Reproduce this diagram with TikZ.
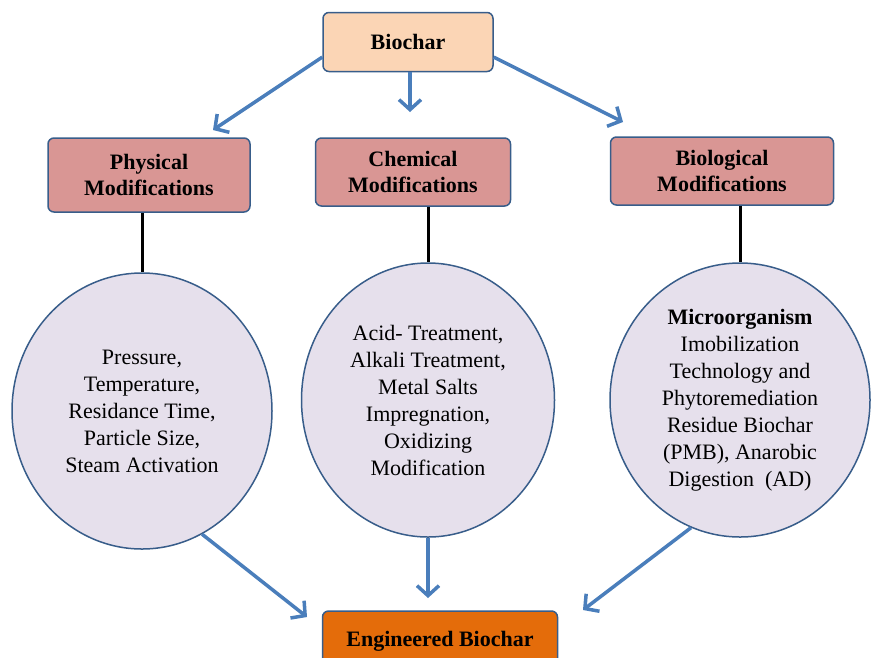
\documentclass[tikz,border=0pt]{standalone}
\usepackage{fontspec}
\setmainfont{Liberation Serif}
\usetikzlibrary{arrows.meta,positioning,shapes.geometric}
\definecolor{peachFill}{HTML}{FBD5B5}
\definecolor{pinkFill}{HTML}{D99694}
\definecolor{lilacFill}{HTML}{E6E0EC}
\definecolor{orangeFill}{HTML}{E46C0A}
\definecolor{boxStroke}{HTML}{385D8A}
\definecolor{arrowBlue}{HTML}{4A7EBB}

\begin{document}
\begin{tikzpicture}[
    x=1pt, y=-1pt,
    font=\fontsize{22}{27}\selectfont,
    headBox/.style={
        rectangle, rounded corners=6pt,
        draw=boxStroke, line width=1.5pt,
        align=center, font=\fontsize{22}{26}\selectfont\bfseries
    },
    modBox/.style={
        headBox, fill=pinkFill
    },
    bubble/.style={
        ellipse, draw=boxStroke, line width=1.5pt,
        fill=lilacFill, align=center, inner sep=0pt
    },
    flow/.style={-{Straight Barb[length=10pt,width=22pt,line width=3.5pt]},
        line width=3.5pt, draw=arrowBlue},
    link/.style={line width=3pt, draw=black}
]

\clip (0,0) rectangle (872,657);
\useasboundingbox (0,0) rectangle (872,657);

% top and bottom boxes
\node[headBox, fill=peachFill, minimum width=170pt, minimum height=59pt] (Biochar) at (408,42) {Biochar};
\node[headBox, fill=orangeFill, minimum width=235pt, minimum height=60pt] (Engineered) at (440,641) {Engineered Biochar};

% modification boxes
\node[modBox, minimum width=202pt, minimum height=74pt] (PhysMod) at (149,175) {Physical\\Modifications};
\node[modBox, minimum width=195pt, minimum height=68pt] (ChemMod) at (413,172) {Chemical\\Modifications};
\node[modBox, minimum width=223pt, minimum height=68pt] (BioMod) at (722,171) {Biological\\Modifications};

% method bubbles
\node[bubble, minimum width=260pt, minimum height=276pt] (PhysEll) at (142,411)
  {Pressure,\\Temperature,\\Residance Time,\\Particle Size,\\Steam Activation};
\node[bubble, minimum width=253pt, minimum height=274pt] (ChemEll) at (428,400)
  {Acid- Treatment,\\Alkali Treatment,\\Metal Salts\\Impregnation,\\Oxidizing\\Modification};
\node[bubble, minimum width=260pt, minimum height=274pt] (BioEll) at (740,400)
  {\textbf{Microorganism}\\Imobilization\\Technology and\\Phytoremediation\\Residue Biochar\\(PMB), Anarobic\\Digestion~ (AD)};

% arrow tips
\coordinate (PhysTip) at (213,130);
\coordinate (ChemTip) at (410,112);
\coordinate (BioTip) at (623,122);
\coordinate (LeftTip) at (307,617);
\coordinate (MidTip) at (428,598);
\coordinate (RightTip) at (583,610);

\draw[flow] (Biochar.190) -- (PhysTip);
\draw[flow] (Biochar.south -| ChemTip) -- (ChemTip);
\draw[flow] (Biochar.350) -- (BioTip);

\draw[link] (PhysMod.south -| PhysEll.north) -- (PhysEll.north);
\draw[link] (ChemMod.south -| ChemEll.north) -- (ChemEll.north);
\draw[link] (BioMod.south -| BioEll.north) -- (BioEll.north);

\draw[flow] (PhysEll.296) -- (LeftTip);
\draw[flow] (ChemEll.south) -- (MidTip);
\draw[flow] (BioEll.249) -- (RightTip);

\end{tikzpicture}
\end{document}
